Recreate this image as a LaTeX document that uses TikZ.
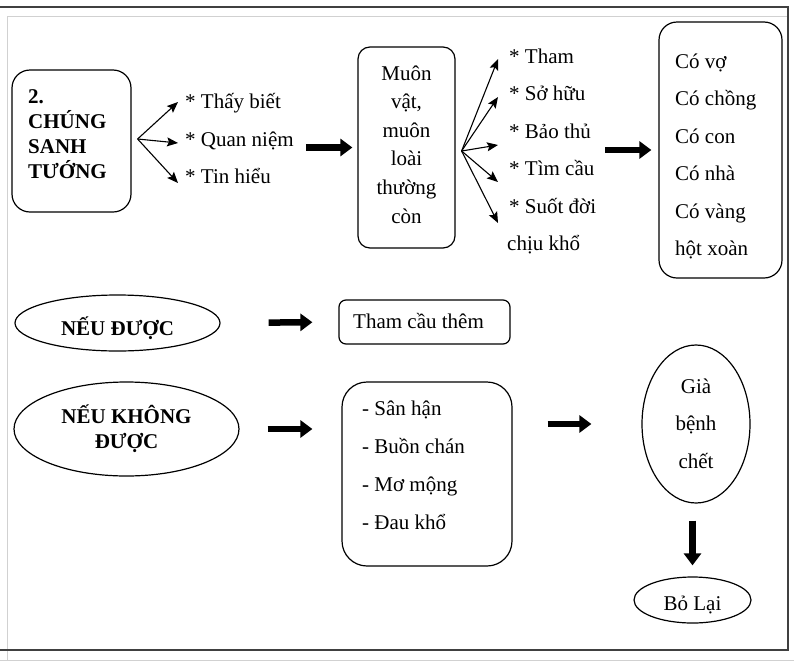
\documentclass[tikz,border=0pt]{standalone}
\usepackage{fontspec}
\setmainfont{Liberation Serif}
\usetikzlibrary{arrows.meta,shapes.geometric}
\begin{document}
\begin{tikzpicture}[x=1pt,y=-1pt,
  every node/.style={font=\fontsize{21}{25}\selectfont, inner sep=0pt},
  rbox/.style={draw, line width=1.2pt},
  oval/.style={draw, ellipse, line width=1.2pt},
  item/.style={anchor=base west},
  bold/.style={font=\fontsize{21}{25}\selectfont\bfseries},
  thin/.style={line width=1.1pt, -{Stealth[length=11pt,width=9pt,inset=2pt]}},
  big/.style={line width=6.5pt, -{Triangle[length=12pt,width=17pt]}}
]
\useasboundingbox (0,0) rectangle (794,664);
% page frame
\draw[line width=1pt, black!18] (7,660) -- (7,16) -- (787,16);
\draw[line width=1pt, black!18] (0,660) -- (794,660);
\draw[line width=1.5pt, black!75] (0,7) -- (788,7) -- (788,650) -- (0,650);

% ---- first row ----
\node[rbox, rounded corners=18pt, minimum width=119pt, minimum height=142pt] (b1) at (71.5,141) {};
% multi-line nodes sit on the baseline of their last line
\node[bold, anchor=base west, align=left] (b1t) at (28,178) {2.\\CHÚNG\\SANH\\TƯỚNG};

\node[item] (q1) at (185,108) {* Thấy biết};
\node[item] (q2) at (185,146) {* Quan niệm};
\node[item] (q3) at (185,183) {* Tin hiểu};

\coordinate (f1) at ([shift={(6pt,2pt)}]b1.east);
\coordinate (f1a) at (178,102);
\coordinate (f1b) at (178,143);
\coordinate (f1c) at (178,183);
\draw[thin] (f1) -- (f1a);
\draw[thin] (f1) -- (f1b);
\draw[thin] (f1) -- (f1c);

\node[rbox, rounded corners=12pt, minimum width=97pt, minimum height=201pt] (b2) at (406.5,147.5) {};
\node[anchor=base, align=center, font=\fontsize{21}{28.6}\selectfont] (b2t) at (406.5,223)
  {Muôn\\vật,\\muôn\\loài\\thường\\còn};

\draw[big, shorten <=12pt, shorten >=5pt] (q2.east |- b2.west) -- (b2.west);

\coordinate (f2) at ([shift={(6pt,-3.5pt)}]b2.east);
\coordinate (f2a) at (498,59);
\coordinate (f2b) at (498,97);
\coordinate (f2c) at (498,145);
\coordinate (f2d) at (498,182);
\coordinate (f2e) at (498,223);
\foreach \t in {f2a,f2b,f2c,f2d,f2e} \draw[thin] (f2) -- (\t);

\node[item] (p1) at (509,63) {* Tham};
\node[item] (p2) at (509,100.5) {* Sở hữu};
\node[item] (p3) at (509,138) {* Bảo thủ};
\node[item] (p4) at (509,175.5) {* Tìm cầu};
\node[item] (p5) at (509,213) {* Suốt đời};
\node[item] (p6) at (507,250.5) {chịu khổ};

\node[rbox, rounded corners=18pt, minimum width=123pt, minimum height=256pt] (b3) at (720.5,150) {};
\node[anchor=base west, align=left, font=\fontsize{21}{37.5}\selectfont] (b3t) at (675,255.5)
  {Có vợ\\Có chồng\\Có con\\Có nhà\\Có vàng\\hột xoàn};

\draw[big, shorten <=14pt, shorten >=7pt] (p3.east |- b3.west) -- (b3.west);

% ---- second row ----
\node[oval, bold, minimum width=205pt, minimum height=56pt, text height=24pt, text depth=0pt] (e1) at (117.5,323) {NẾU ĐƯỢC};
\node[rbox, rounded corners=7pt, minimum width=171pt, minimum height=44pt] (b4) at (424.5,322) {};
\node[anchor=base west] (b4t) at (353,328) {Tham cầu thêm};
\draw[big, shorten <=48pt, shorten >=26pt] (e1.east) -- (b4.west);

% ---- third row ----
\node[oval, bold, align=center, minimum width=225pt, minimum height=94pt] (e2) at (126.5,429) {NẾU KHÔNG\\ĐƯỢC};
\node[rbox, rounded corners=25pt, minimum width=170pt, minimum height=184pt] (b5) at (427,474) {};
\node[anchor=base west, align=left, font=\fontsize{21}{37.7}\selectfont] (b5t) at (362,529)
  {- Sân hận\\- Buồn chán\\- Mơ mộng\\- Đau khổ};
\draw[big, shorten <=28pt, shorten >=29pt] (e2.east) -- (e2.east -| b5.west);

\node[oval, minimum width=108pt, minimum height=158pt] (e3) at (696,424) {};
\node[anchor=base, align=center, font=\fontsize{21}{37.5}\selectfont] (e3t) at (696,468) {Già\\bệnh\\chết};
\draw[big, shorten <=35pt, shorten >=50pt] (b5.east |- e3.west) -- (e3.west);

\node[oval, minimum width=117pt, minimum height=46pt, text height=20pt, text depth=0pt] (e4) at (692.5,600) {Bỏ Lại};
\draw[big, shorten <=17pt, shorten >=11pt] (e4.north |- e3.south) -- (e4.north);
\end{tikzpicture}
\end{document}
